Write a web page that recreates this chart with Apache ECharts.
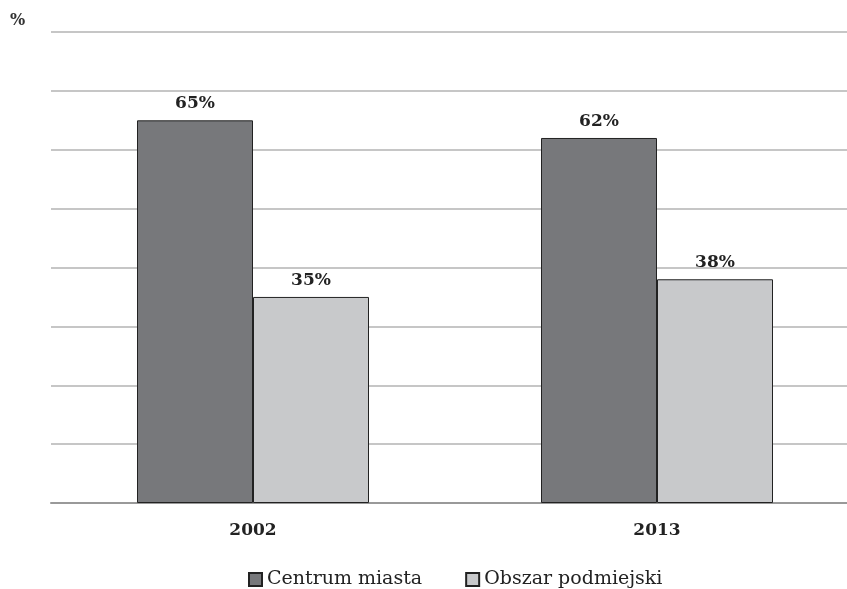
<!DOCTYPE html>
<html><head><meta charset="utf-8">
<script src="https://cdn.jsdelivr.net/npm/echarts@6/dist/echarts.min.js"></script>
<style>html,body{margin:0;padding:0;background:#fff;overflow:hidden}#c{width:859px;height:589px}</style>
</head><body><div id="c"></div>
<script>
const categories = ['2002', '2013'];
const centrum = [65, 62];
const obszar = [35, 38];
const seriesNames = ['Centrum miasta', 'Obszar podmiejski'];

const serif = '"DejaVu Serif", "Liberation Serif", serif';
const chart = echarts.init(document.getElementById('c'));
const lbl = {show: true, position: 'top', distance: 8, formatter: '{c}%', fontFamily: serif, fontWeight: 'bold', fontSize: 17, color: '#222'};
chart.setOption({
  animation: false,
  graphic: [{type: 'text', left: 10, top: 13, style: {text: '%', font: 'bold 16px ' + serif, fill: '#333'}}],
  grid: {left: 51, top: 32, right: 0, height: 471},
  legend: {top: 565, left: 243, itemWidth: 13, itemHeight: 13, itemGap: 43,
    textStyle: {fontFamily: serif, fontSize: 19, color: '#222'},
    data: seriesNames.map(n => ({name: n, icon: 'rect'}))},
  xAxis: {type: 'category', data: categories,
    axisLine: {lineStyle: {color: '#999', width: 2}}, axisTick: {show: false},
    axisLabel: {fontFamily: serif, fontWeight: 'bold', fontSize: 17, color: '#222', margin: 19}},
  yAxis: {type: 'value', min: 0, max: 80, interval: 10,
    axisLabel: {show: false}, axisLine: {show: false}, axisTick: {show: false},
    splitLine: {lineStyle: {color: '#b3b3b3', width: 1.5}}},
  series: [
    {name: seriesNames[0], type: 'bar', data: centrum, barWidth: 116, barGap: '0%',
      itemStyle: {color: '#77787b', borderColor: '#222', borderWidth: 1}, label: lbl},
    {name: seriesNames[1], type: 'bar', data: obszar, barWidth: 116,
      itemStyle: {color: '#c8c9cb', borderColor: '#222', borderWidth: 1}, label: lbl}
  ]
});
</script></body></html>
